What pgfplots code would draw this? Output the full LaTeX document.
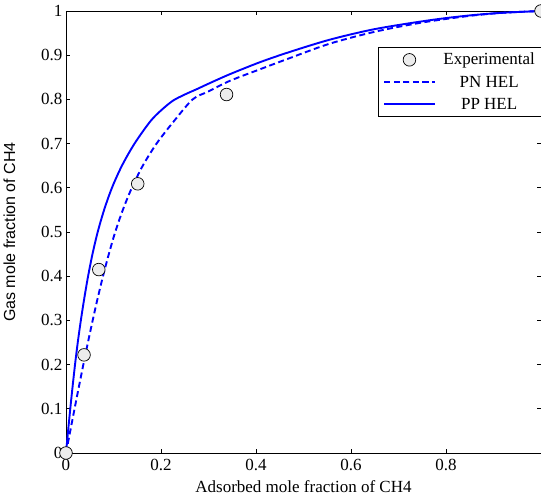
\documentclass[border=0pt]{standalone}
\usepackage{fontspec}
\setmainfont{Liberation Serif}
\newfontfamily\arialfont{Liberation Sans}
\usepackage{pgfplots}
\pgfplotsset{compat=1.18}
\usetikzlibrary{calc}
\begin{document}
\begin{tikzpicture}[font=\fontsize{17}{20}\selectfont]
\begin{axis}[
    scale only axis,
    width=475pt, height=442pt,
    xmin=0, xmax=1, ymin=0, ymax=1,
    xtick={0,0.2,0.4,0.6,0.8},
    ytick={0,0.1,0.2,0.3,0.4,0.5,0.6,0.7,0.8,0.9,1},
    tick align=inside,
    major tick length=4pt,
    axis line style={line width=0.9pt},
    tick style={black, line width=0.6pt},
    clip=false,
    /pgf/number format/assume math mode=true,
    xticklabel style={yshift=-3pt},
    xlabel={Adsorbed mole fraction of CH4},
    ylabel={Gas mole fraction of CH4},
    xlabel style={at={(axis description cs:0.5,-0.0905)}, anchor=base},
    ylabel style={at={(axis description cs:-0.107,0.5)}, anchor=base,
        font=\arialfont\fontsize{16}{19}\selectfont},
    legend style={at={(axis description cs:0.657,0.919)}, anchor=north west,
        draw=black, line width=0.8pt, font=\fontsize{17}{20}\selectfont,
        row sep=5.5pt, column sep=6pt, inner xsep=5pt, inner ysep=4pt},
    legend cell align={center},
    legend image code/.code={
        \draw[mark repeat=2, mark phase=2] plot coordinates {(0pt,0pt) (25pt,0pt) (50pt,0pt)};
    },
]
% experimental points
\addplot[only marks, mark=*, mark size=6.3pt,
    mark options={fill=gray!15, draw=black, line width=0.7pt}]
coordinates {(0,0) (0.038,0.222) (0.069,0.415) (0.151,0.609) (0.338,0.811) (1,1)};
% PN HEL
\addplot[blue, line width=1.9pt, dash pattern=on 6pt off 3.5pt, smooth]
coordinates {(0,0) (0.009,0.05) (0.018,0.10) (0.02715,0.15) (0.0365,0.2)
 (0.04615,0.25) (0.05615,0.3) (0.06665,0.35) (0.0779,0.4) (0.09015,0.45)
 (0.10365,0.5) (0.11965,0.55) (0.13865,0.6) (0.16165,0.65) (0.19065,0.7)
 (0.22665,0.75) (0.26665,0.8) (0.3,0.818) (0.345,0.842) (0.408,0.868)
 (0.47,0.893) (0.555,0.926) (0.65,0.953) (0.75,0.974) (0.85,0.989)
 (0.92,0.996) (1,1)};
% PP HEL
\addplot[blue, line width=1.9pt, smooth]
coordinates {(0,0) (0.0044,0.05) (0.009,0.1) (0.01385,0.15) (0.019,0.2)
 (0.02475,0.25) (0.03125,0.3) (0.0385,0.35) (0.0465,0.4) (0.05575,0.45)
 (0.06675,0.5) (0.08025,0.55) (0.09675,0.6) (0.11775,0.65) (0.14425,0.7)
 (0.17725,0.75) (0.2,0.775) (0.225,0.797) (0.25,0.811) (0.275,0.823)
 (0.303,0.837) (0.345,0.857) (0.408,0.884) (0.47,0.907) (0.555,0.935)
 (0.65,0.959) (0.765,0.979) (0.85,0.99) (0.92,0.996) (1,1)};
\legend{Experimental, PN HEL, PP HEL}
\end{axis}
\pgfresetboundingbox
\path ($(current axis.south west)+(-66pt,-44pt)$) rectangle ($(current axis.north east)+(0pt,11pt)$);
\end{tikzpicture}
\end{document}
